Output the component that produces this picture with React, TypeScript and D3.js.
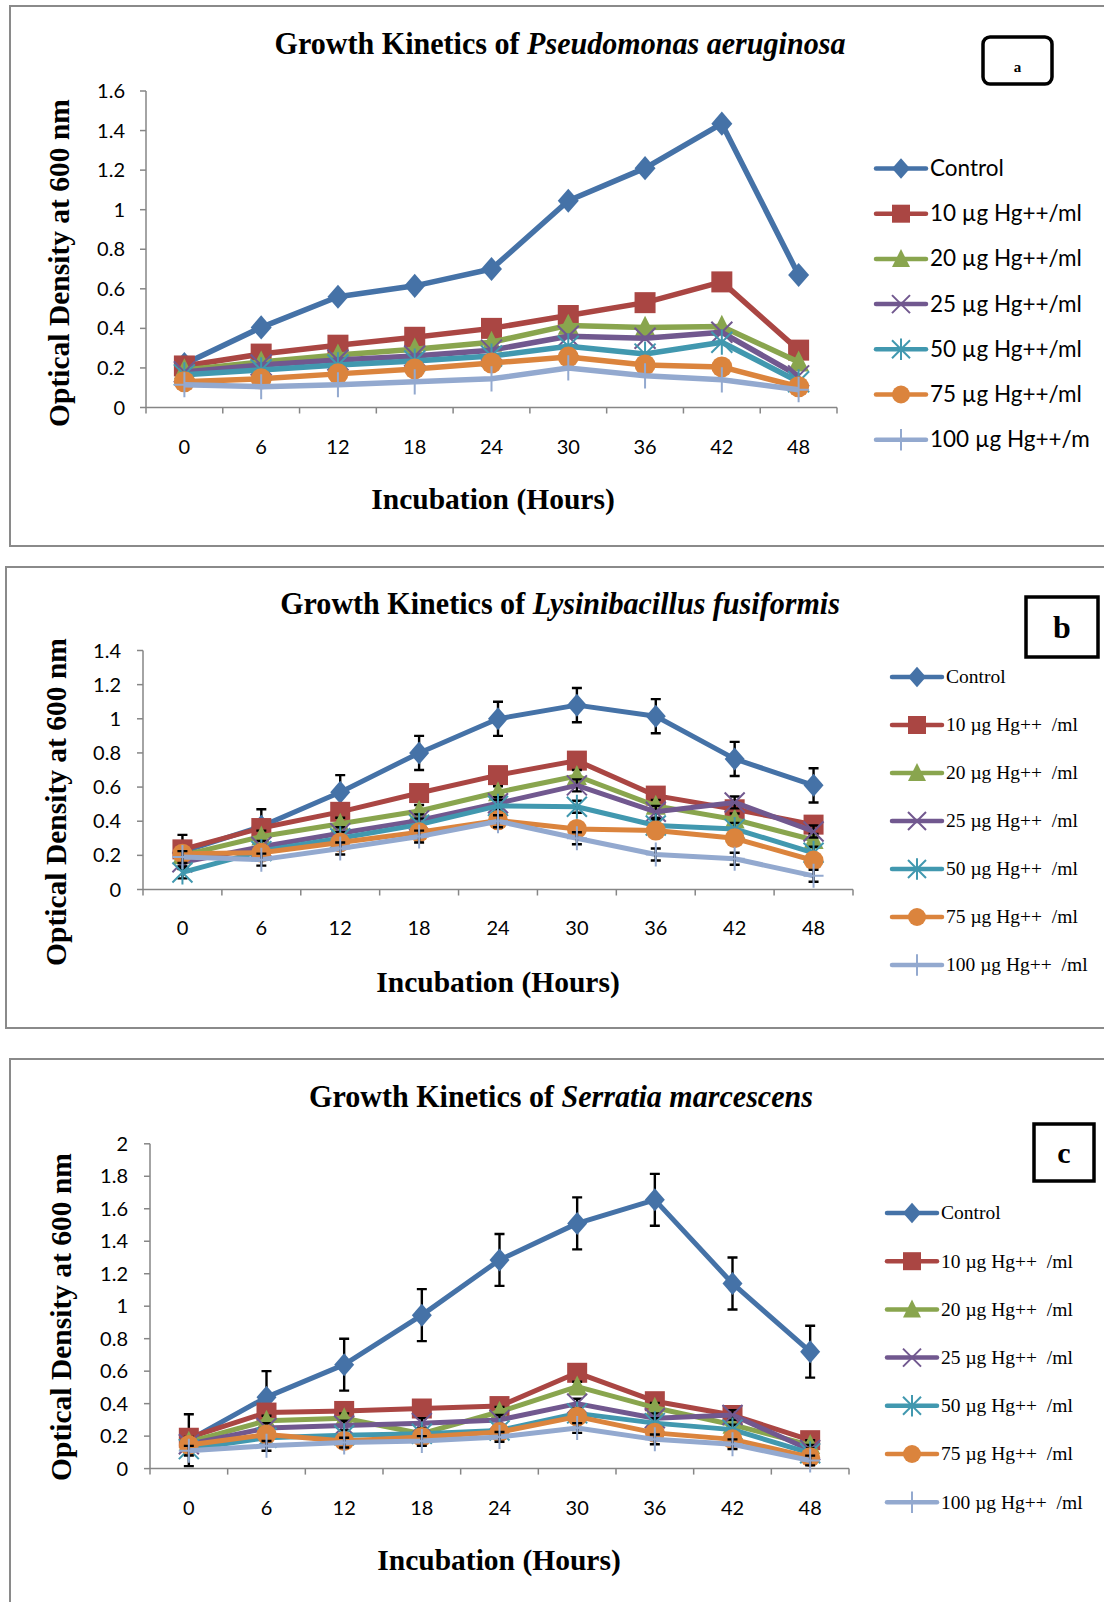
import React from "react";
import * as d3 from "d3";

// incubation hours (category axis)
const hours = ["0", "6", "12", "18", "24", "30", "36", "42", "48"];

const namesA = ["Control", "10 µg Hg++/ml", "20 µg Hg++/ml", "25 µg Hg++/ml", "50 µg Hg++/ml", "75 µg Hg++/ml", "100 µg Hg++/m"];
const namesBC = ["Control", "10 µg Hg++  /ml", "20 µg Hg++  /ml", "25 µg Hg++  /ml", "50 µg Hg++  /ml", "75 µg Hg++  /ml", "100 µg Hg++  /ml"];

const colors = ["#4572A7", "#AA4643", "#89A54E", "#71588F", "#4198AF", "#DB843D", "#93A9CF"];
const markers = ["diamond", "square", "triangle", "x", "star", "circle", "plus"];

// panel a : Pseudomonas aeruginosa
const aControl = [0.22, 0.405, 0.56, 0.615, 0.70, 1.045, 1.21, 1.435, 0.67];
const a10 = [0.21, 0.27, 0.315, 0.355, 0.40, 0.465, 0.53, 0.635, 0.29];
const a20 = [0.19, 0.23, 0.265, 0.295, 0.33, 0.415, 0.405, 0.41, 0.23];
const a25 = [0.18, 0.215, 0.24, 0.26, 0.29, 0.36, 0.35, 0.38, 0.16];
const a50 = [0.165, 0.19, 0.215, 0.235, 0.26, 0.31, 0.27, 0.33, 0.13];
const a75 = [0.13, 0.145, 0.17, 0.195, 0.225, 0.255, 0.215, 0.205, 0.105];
const a100 = [0.115, 0.105, 0.115, 0.13, 0.145, 0.20, 0.16, 0.14, 0.09];

// panel b : Lysinibacillus fusiformis
const bControl = [0.22, 0.37, 0.57, 0.80, 1.0, 1.08, 1.015, 0.765, 0.61];
const b10 = [0.235, 0.36, 0.455, 0.565, 0.67, 0.755, 0.55, 0.47, 0.38];
const b20 = [0.20, 0.31, 0.385, 0.46, 0.57, 0.665, 0.49, 0.41, 0.29];
const b25 = [0.16, 0.25, 0.33, 0.405, 0.505, 0.61, 0.455, 0.51, 0.34];
const b50 = [0.10, 0.225, 0.30, 0.38, 0.49, 0.485, 0.375, 0.355, 0.215];
const b75 = [0.21, 0.215, 0.275, 0.335, 0.405, 0.355, 0.345, 0.30, 0.17];
const b100 = [0.19, 0.175, 0.24, 0.31, 0.40, 0.30, 0.205, 0.18, 0.08];
const bErrControl = 0.1;
const bErrOther = 0.035;

// panel c : Serratia marcescens
const cControl = [0.175, 0.44, 0.64, 0.945, 1.285, 1.51, 1.655, 1.14, 0.72];
const c10 = [0.19, 0.345, 0.355, 0.37, 0.385, 0.59, 0.415, 0.33, 0.175];
const c20 = [0.165, 0.295, 0.31, 0.215, 0.35, 0.505, 0.375, 0.27, 0.145];
const c25 = [0.15, 0.25, 0.265, 0.28, 0.30, 0.40, 0.31, 0.33, 0.115];
const c50 = [0.12, 0.19, 0.205, 0.215, 0.235, 0.34, 0.28, 0.24, 0.095];
const c75 = [0.145, 0.21, 0.17, 0.195, 0.225, 0.32, 0.22, 0.18, 0.07];
const c100 = [0.11, 0.14, 0.16, 0.17, 0.195, 0.25, 0.18, 0.15, 0.05];
const cErrControl = 0.16;
const cErrOther = 0.03;

const SERIF = "'Liberation Serif', 'Times New Roman', serif";
const SANS = "Lato, 'Open Sans', sans-serif";

function Marker({ type, x, y, color, s }: any) {
  const t = `translate(${x},${y})`;
  if (type === "diamond") {
    return <path transform={t} d={`M0,${-s * 1.15}L${s},0L0,${s * 1.15}L${-s},0Z`} fill={color} />;
  }
  if (type === "square") {
    return <rect x={x - s} y={y - s} width={s * 2} height={s * 2} fill={color} />;
  }
  if (type === "triangle") {
    return <path transform={t} d={`M0,${-s * 1.1}L${s},${s * 0.9}L${-s},${s * 0.9}Z`} fill={color} />;
  }
  if (type === "circle") {
    return <circle cx={x} cy={y} r={s} fill={color} />;
  }
  if (type === "x") {
    return <path transform={t} d={`M${-s},${-s}L${s},${s}M${-s},${s}L${s},${-s}`} stroke={color} strokeWidth={2} fill="none" />;
  }
  if (type === "star") {
    return <path transform={t} d={`M${-s},${-s}L${s},${s}M${-s},${s}L${s},${-s}M0,${-s * 1.2}L0,${s * 1.2}`} stroke={color} strokeWidth={2} fill="none" />;
  }
  // plus
  return <path transform={t} d={`M0,${-s * 1.2}L0,${s * 1.2}M${-s},0L${s},0`} stroke={color} strokeWidth={2} fill="none" />;
}

function Panel(props: any) {
  const {
    box, italic, label, labelBox, labelRound, labelSize,
    x0, x1, yTop, yBottom, yMax, yStep, data, errs, names,
    legendX, legendY0, legendDy, legendFont, legendSize,
    titleY, titleX, titleSize, xLabelY, xTitleY, xTitleX, yTitleX, yTitleY,
    tickSize, lineW, mk, yLabelX,
  } = props;

  const x = d3.scaleBand().domain(hours).range([x0, x1]).paddingInner(0).paddingOuter(0);
  const y = d3.scaleLinear().domain([0, yMax]).range([yBottom, yTop]);
  const yTicks = d3.range(0, yMax + 1e-9, yStep);
  const cx = (h: string) => (x(h) as number) + x.bandwidth() / 2;
  const line = d3.line<number>().x((d, i) => cx(hours[i])).y((d) => y(d));
  const axisColor = "#868686";
  const fmt = (t: number) => {
    const r = Math.round(t * 10) / 10;
    return Number.isInteger(r) ? String(r) : r.toFixed(1);
  };

  return (
    <g>
      <rect x={box[0]} y={box[1]} width={box[2]} height={box[3]} fill="#fff" stroke="#8a8a8a" strokeWidth={2} />
      <g transform={`translate(${titleX},${titleY}) scale(0.94,1)`}>
        <text textAnchor="middle" fontFamily={SERIF} fontWeight="bold" fontSize={titleSize} fill="#000">
          Growth Kinetics of <tspan fontStyle="italic">{italic}</tspan>
        </text>
      </g>
      <rect x={labelBox[0]} y={labelBox[1]} width={labelBox[2]} height={labelBox[3]} rx={labelRound} fill="#fff" stroke="#000" strokeWidth={3.5} />
      <text x={labelBox[0] + labelBox[2] / 2} y={labelBox[1] + labelBox[3] / 2 + labelSize * 0.35 + (labelSize < 20 ? 6 : 0)}
        textAnchor="middle" fontFamily={SERIF} fontWeight="bold" fontSize={labelSize}>{label}</text>

      {/* axes */}
      <line x1={x0} x2={x0} y1={yTop} y2={yBottom} stroke={axisColor} strokeWidth={1.5} />
      <line x1={x0} x2={x1} y1={yBottom} y2={yBottom} stroke={axisColor} strokeWidth={1.5} />
      {yTicks.map((t: number) => (
        <g key={"y" + t}>
          <line x1={x0 - 6} x2={x0} y1={y(t)} y2={y(t)} stroke={axisColor} strokeWidth={1.5} />
          <text x={yLabelX} y={y(t) + tickSize * 0.35} textAnchor="end" fontFamily={SANS} fontSize={tickSize} fill="#000">
            {fmt(t)}
          </text>
        </g>
      ))}
      {hours.map((h) => (
        <g key={"x" + h}>
          <line x1={x(h) as number} x2={x(h) as number} y1={yBottom} y2={yBottom + 6} stroke={axisColor} strokeWidth={1.5} />
          <text x={cx(h)} y={xLabelY} textAnchor="middle" fontFamily={SANS} fontSize={tickSize} fill="#000">{h}</text>
        </g>
      ))}
      <line x1={x1} x2={x1} y1={yBottom} y2={yBottom + 6} stroke={axisColor} strokeWidth={1.5} />

      <text x={xTitleX} y={xTitleY} textAnchor="middle" fontFamily={SERIF} fontWeight="bold" fontSize={29.5}>Incubation (Hours)</text>
      <text transform={`translate(${yTitleX},${yTitleY}) rotate(-90)`} textAnchor="middle" fontFamily={SERIF} fontWeight="bold" fontSize={29.5}>
        Optical Density at 600 nm
      </text>

      {/* series */}
      {data.map((vals: number[], si: number) => (
        <g key={"s" + si}>
          <path d={line(vals) as string} fill="none" stroke={colors[si]} strokeWidth={lineW} strokeLinejoin="round" />
          {errs && vals.map((v, i) => {
            const e = errs[si];
            const xx = cx(hours[i]);
            return (
              <path key={"e" + i} d={`M${xx},${y(v - e)}L${xx},${y(v + e)}M${xx - 5},${y(v - e)}L${xx + 5},${y(v - e)}M${xx - 5},${y(v + e)}L${xx + 5},${y(v + e)}`}
                stroke="#000" strokeWidth={2.4} fill="none" />
            );
          })}
          {vals.map((v, i) => (
            <Marker key={"m" + i} type={markers[si]} x={cx(hours[i])} y={y(v)} color={colors[si]} s={mk} />
          ))}
        </g>
      ))}

      {/* legend */}
      {names.map((n: string, i: number) => {
        const ly = legendY0 + i * legendDy;
        return (
          <g key={"l" + i}>
            <line x1={legendX} x2={legendX + 50} y1={ly} y2={ly} stroke={colors[i]} strokeWidth={4.5} strokeLinecap="round" />
            <Marker type={markers[i]} x={legendX + 25} y={ly} color={colors[i]} s={9} />
            <text x={legendX + 54} y={ly + legendSize * 0.33} fontFamily={legendFont} fontSize={legendSize} fill="#000" style={{ whiteSpace: "pre" }}>{n}</text>
          </g>
        );
      })}
    </g>
  );
}

export default function App() {
  return (
    <svg width={1104} height={1602} style={{ position: "absolute", left: 0, top: 0, background: "#fff" }}>
      <Panel
        box={[10, 6, 1110, 540]} italic="Pseudomonas aeruginosa" label="a"
        labelBox={[983, 37, 69, 47]} labelRound={7} labelSize={15}
        x0={146} x1={837} yTop={91} yBottom={407.5} yMax={1.6} yStep={0.2}
        data={[aControl, a10, a20, a25, a50, a75, a100]} errs={null} names={namesA}
        legendX={876} legendY0={168.5} legendDy={45.2} legendFont={SANS} legendSize={22.5}
        titleX={560} titleY={54} titleSize={32} xLabelY={454} xTitleX={493} xTitleY={509}
        yTitleX={69} yTitleY={263} tickSize={20} lineW={5.5} mk={10.5} yLabelX={125}
      />
      <Panel
        box={[6, 567, 1110, 461]} italic="Lysinibacillus fusiformis" label="b"
        labelBox={[1026, 597, 72, 60]} labelRound={0} labelSize={32}
        x0={143} x1={853} yTop={650.5} yBottom={889.5} yMax={1.4} yStep={0.2}
        data={[bControl, b10, b20, b25, b50, b75, b100]}
        errs={[bErrControl, bErrOther, bErrOther, bErrOther, bErrOther, bErrOther, bErrOther]} names={namesBC}
        legendX={892} legendY0={677} legendDy={48} legendFont={SERIF} legendSize={19.5}
        titleX={560} titleY={614} titleSize={32} xLabelY={935} xTitleX={498} xTitleY={992}
        yTitleX={66} yTitleY={802} tickSize={20} lineW={5} mk={10} yLabelX={121}
      />
      <Panel
        box={[10, 1059, 1110, 560]} italic="Serratia marcescens" label="c"
        labelBox={[1034, 1124, 60, 57]} labelRound={0} labelSize={30}
        x0={150} x1={849} yTop={1143.8} yBottom={1468.6} yMax={2} yStep={0.2}
        data={[cControl, c10, c20, c25, c50, c75, c100]}
        errs={[cErrControl, cErrOther, cErrOther, cErrOther, cErrOther, cErrOther, cErrOther]} names={namesBC}
        legendX={887} legendY0={1213} legendDy={48.2} legendFont={SERIF} legendSize={19.5}
        titleX={561} titleY={1107} titleSize={32} xLabelY={1515} xTitleX={499} xTitleY={1570}
        yTitleX={71} yTitleY={1317} tickSize={20} lineW={5} mk={10} yLabelX={128}
      />
    </svg>
  );
}
